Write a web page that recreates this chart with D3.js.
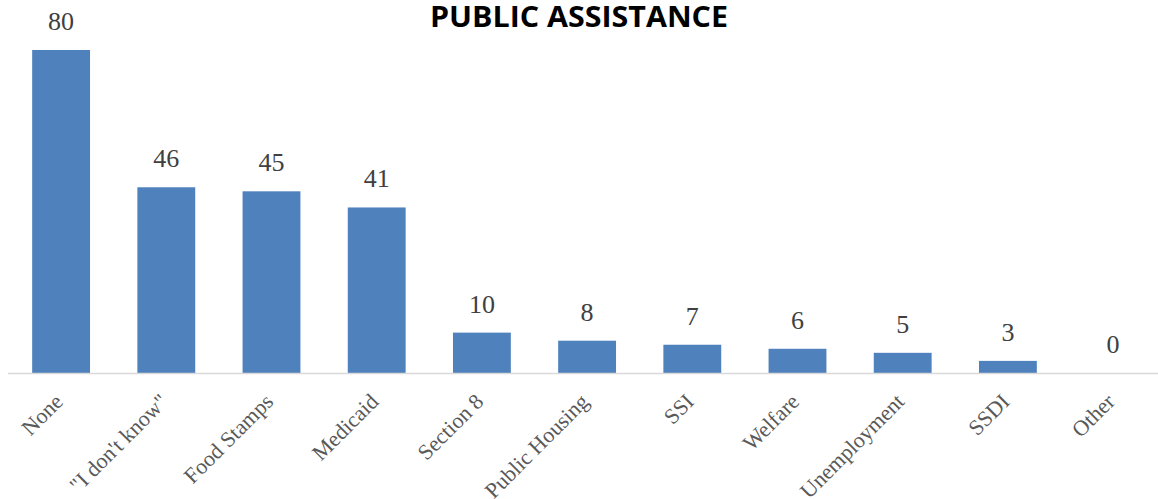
<!DOCTYPE html>
<html>
<head>
<meta charset="utf-8">
<script src="https://cdn.jsdelivr.net/npm/d3@7"></script>
<style>
  html, body { margin: 0; padding: 0; background: #fff; }
  svg { display: block; }
</style>
</head>
<body>
<svg id="chart" width="1158" height="499"></svg>
<script>
// Survey responses: which public assistance programs respondents use
const categories = ["None", "\"I don't know\"", "Food Stamps", "Medicaid", "Section 8",
  "Public Housing", "SSI", "Welfare", "Unemployment", "SSDI", "Other"];
const counts = [80, 46, 45, 41, 10, 8, 7, 6, 5, 3, 0];
const chartTitle = "PUBLIC ASSISTANCE";

const W = 1158, H = 499;
const svg = d3.select("#chart");

const x = d3.scaleBand()
  .domain(categories)
  .range([8.5, 1165.7])
  .paddingInner(0.45)
  .paddingOuter(0.225);

const y = d3.scaleLinear()
  .domain([0, 80])
  .range([373, 50]);

// title
svg.append("text")
  .attr("x", 579)
  .attr("y", 27)
  .attr("text-anchor", "middle")
  .attr("font-family", "'Open Sans', 'Liberation Sans', sans-serif")
  .attr("font-weight", "bold")
  .attr("font-size", 28)
  .attr("textLength", 298)
  .attr("lengthAdjust", "spacingAndGlyphs")
  .attr("fill", "#000")
  .text(chartTitle);

const data = categories.map((c, i) => ({ c, v: counts[i] }));

// bars
svg.append("g").selectAll("rect")
  .data(data)
  .join("rect")
  .attr("x", d => x(d.c))
  .attr("y", d => y(d.v))
  .attr("width", x.bandwidth())
  .attr("height", d => y(0) - y(d.v))
  .attr("fill", "#4f81bd");

// baseline axis
const axis = svg.append("g")
  .attr("transform", `translate(0,${y(0)})`)
  .call(d3.axisBottom(x).tickSize(0).tickSizeOuter(0).tickFormat(""));
axis.select(".domain")
  .attr("stroke", "#d9d9d9")
  .attr("stroke-width", 1.5)
  .attr("d", `M8,0.5H${W}`);

// category labels rotated 45 degrees
axis.selectAll(".tick text").remove();
axis.selectAll(".tick")
  .append("text")
  .attr("transform", "translate(3,30) rotate(-45)")
  .attr("text-anchor", "end")
  .attr("font-family", "'Liberation Serif', 'DejaVu Serif', serif")
  .attr("font-size", 22)
  .attr("fill", "#595959")
  .text(d => d);

// value labels
svg.append("g").selectAll("text")
  .data(data)
  .join("text")
  .attr("x", d => x(d.c) + x.bandwidth() / 2)
  .attr("y", d => y(d.v) - 20)
  .attr("text-anchor", "middle")
  .attr("font-family", "'Liberation Serif', 'DejaVu Serif', serif")
  .attr("font-size", 26)
  .attr("fill", "#404040")
  .text(d => d.v);
</script>
</body>
</html>
